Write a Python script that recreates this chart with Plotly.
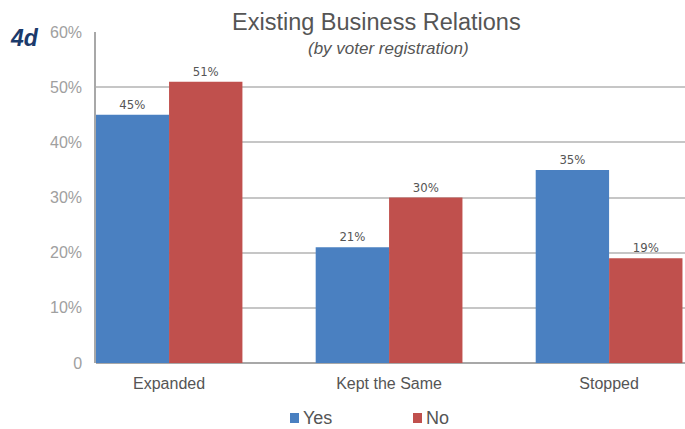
import plotly.graph_objects as go

categories = ["Expanded", "Kept the Same", "Stopped"]
yes_values = [45, 21, 35]
no_values = [51, 30, 19]
y_ticks = [0, 10, 20, 30, 40, 50, 60]
y_tick_labels = ["0", "10%", "20%", "30%", "40%", "50%", "60%"]

BLUE = "#4A80C1"
RED = "#C0504D"
GRID = "#C6C6C6"
TEXT = "#555555"

# plot box in pixels
L, R, T, B = 96, 685, 32, 363
W, H = R - L, B - T


def px_x(x):
    return (x - L) / W


def px_y(y):
    return (B - y) / H


pos = list(range(len(categories)))
label_font = dict(family="DejaVu Sans Condensed, Liberation Sans Narrow, sans-serif",
                  size=13, color=TEXT)

fig = go.Figure()
fig.add_trace(go.Bar(
    x=pos, y=yes_values, name="Yes", marker_color=BLUE, marker_line_width=0,
    text=[f"{v}%" for v in yes_values], textposition="outside", cliponaxis=False,
    textfont=label_font,
))
fig.add_trace(go.Bar(
    x=pos, y=no_values, name="No", marker_color=RED, marker_line_width=0,
    text=[f"{v}%" for v in no_values], textposition="outside", cliponaxis=False,
    textfont=label_font,
))

fig.update_layout(
    width=685, height=429,
    margin=dict(l=L, r=685 - R, t=T, b=429 - B, autoexpand=False),
    paper_bgcolor="white", plot_bgcolor="white",
    barmode="group", bargap=0.333, bargroupgap=0,
    font=dict(family="Liberation Sans, Arial, sans-serif", color=TEXT),
    showlegend=False,
    xaxis=dict(
        tickmode="array", tickvals=pos, ticktext=categories,
        range=[-0.332, 2.345], showgrid=False, zeroline=False,
        showline=False, ticks="", ticklabelstandoff=9,
        tickfont=dict(size=16, color=TEXT),
    ),
    yaxis=dict(
        range=[0, 60], tickmode="array", tickvals=y_ticks, ticktext=y_tick_labels,
        showgrid=True, gridcolor=GRID, gridwidth=1.5, zeroline=True,
        zerolinecolor="#A8A8A8", zerolinewidth=1.5,
        showline=True, linecolor="#A8A8A8", linewidth=1.5,
        ticks="", ticklabelstandoff=9,
        tickfont=dict(size=16, color="#A0A0A0"),
    ),
)

# white box behind the title block, hiding the top gridline under it
fig.add_shape(type="rect", xref="paper", yref="paper",
              x0=px_x(220), x1=1.01, y0=px_y(36), y1=px_y(5),
              fillcolor="white", line_width=0, layer="above")

fig.add_annotation(text="Existing Business Relations", xref="paper", yref="paper",
                   x=px_x(376), y=px_y(22), xanchor="center", yanchor="middle",
                   showarrow=False, font=dict(size=23.5, color=TEXT))
fig.add_annotation(text="<i>(by voter registration)</i>", xref="paper", yref="paper",
                   x=px_x(388), y=px_y(48), xanchor="center", yanchor="middle",
                   showarrow=False, font=dict(size=17, color=TEXT))
fig.add_annotation(text="<b><i>4d</i></b>", xref="paper", yref="paper",
                   x=px_x(8), y=px_y(38), xanchor="left", yanchor="middle",
                   showarrow=False, font=dict(size=23, color="#1B3A6B"))

# legend: colour key squares with series names
legend_items = [("Yes", BLUE, 290), ("No", RED, 413)]
for name, color, x0 in legend_items:
    fig.add_shape(type="rect", xref="paper", yref="paper",
                  x0=px_x(x0), x1=px_x(x0 + 9), y0=px_y(423), y1=px_y(413),
                  fillcolor=color, line_width=0)
    fig.add_annotation(text=name, xref="paper", yref="paper",
                       x=px_x(x0 + 11), y=px_y(418), xanchor="left", yanchor="middle",
                       showarrow=False, font=dict(size=18, color=TEXT))

fig.write_html("out.html")
